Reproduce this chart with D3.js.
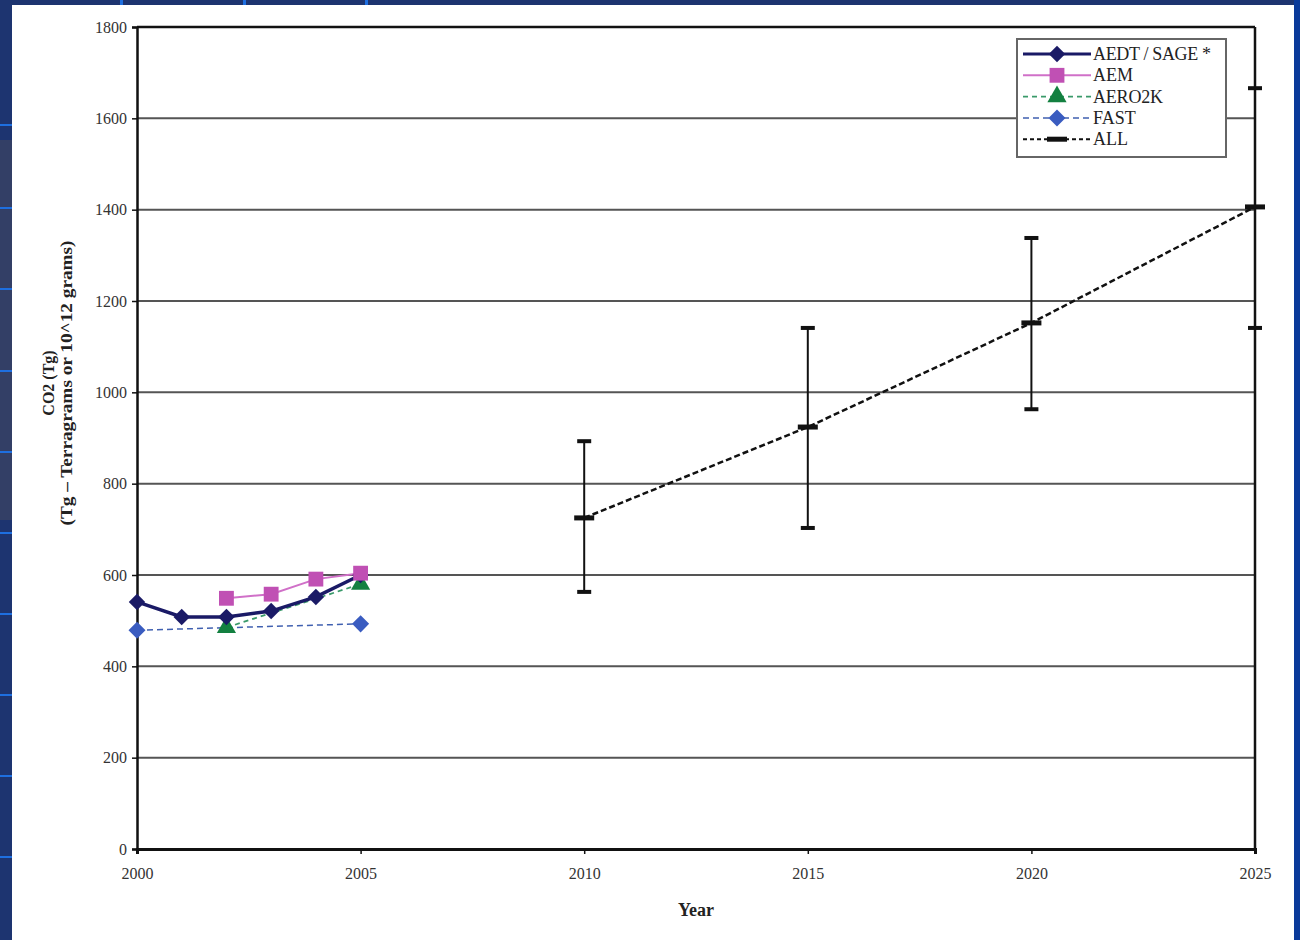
<!DOCTYPE html>
<html>
<head>
<meta charset="utf-8">
<script src="https://cdn.jsdelivr.net/npm/d3@7"></script>
<style>
  body { margin: 0; background: #1d3470; }
  svg { display: block; }
</style>
</head>
<body>
<div id="graph"></div>
<script>
const MARGIN = { LEFT: 137, RIGHT: 45, TOP: 27, BOTTOM: 91 }
const WIDTH = 1300 - MARGIN.LEFT - MARGIN.RIGHT
const HEIGHT = 940 - MARGIN.TOP - MARGIN.BOTTOM

// data
const yearTicks = [2000, 2005, 2010, 2015, 2020, 2025]
const valueTicks = [0, 200, 400, 600, 800, 1000, 1200, 1400, 1600, 1800]

const aedtYears = [2000, 2001, 2002, 2003, 2004, 2005]
const aedtValues = [541, 508, 508, 521, 552, 600]
const aemYears = [2002, 2003, 2004, 2005]
const aemValues = [549, 558, 591, 604]
const aero2kYears = [2002, 2005]
const aero2kValues = [485, 580]
const fastYears = [2000, 2005]
const fastValues = [479, 493]
const allYears = [2010, 2015, 2020, 2025]
const allValues = [725, 924, 1152, 1406]
const allLow = [563, 703, 963, 1141]
const allHigh = [893, 1141, 1338, 1666]

const zip = (xs, ys) => xs.map((x, i) => ({ x: x, y: ys[i] }))

const svg = d3.select("#graph").append("svg")
    .attr("width", 1300)
    .attr("height", 940)

// slide background
svg.append("rect").attr("width", 1300).attr("height", 940).attr("fill", "#1d3470")
svg.append("rect").attr("x", 0).attr("y", 140).attr("width", 12).attr("height", 380)
    .attr("fill", "#4a4a5c").attr("opacity", 0.5)
svg.append("rect").attr("x", 1294).attr("y", 0).attr("width", 6).attr("height", 940).attr("fill", "#0a3a9a")
;[124, 207, 288, 370, 451, 532, 613, 694, 775, 856].forEach(yy => {
    svg.append("rect").attr("x", 0).attr("y", yy).attr("width", 12).attr("height", 2).attr("fill", "#1e6fe0")
})
;[120, 243, 365].forEach(xx => {
    svg.append("rect").attr("x", xx).attr("y", 0).attr("width", 3).attr("height", 5).attr("fill", "#1e6fe0")
})
svg.append("rect").attr("x", 12).attr("y", 5).attr("width", 1282).attr("height", 935).attr("fill", "white")

const g = svg.append("g")
    .attr("transform", `translate(${MARGIN.LEFT}, ${MARGIN.TOP})`)

const x = d3.scaleLinear()
    .range([0, WIDTH])
    .domain([2000, 2025])

const y = d3.scaleLinear()
    .range([HEIGHT, 0])
    .domain([0, 1800])

// gridlines
g.selectAll(".grid")
    .data(valueTicks.filter(v => v > 0))
    .enter().append("line")
    .attr("x1", 0).attr("x2", WIDTH)
    .attr("y1", d => y(d)).attr("y2", d => y(d))
    .attr("stroke", d => d == 1800 ? "#111" : "#555")
    .attr("stroke-width", d => d == 1800 ? 2.5 : 2)

// right frame
g.append("line")
    .attr("x1", WIDTH).attr("x2", WIDTH).attr("y1", 0).attr("y2", HEIGHT)
    .attr("stroke", "#111").attr("stroke-width", 2.5)

// Y Axis
const yAxisCall = d3.axisLeft(y).tickValues(valueTicks).tickFormat(d3.format("d")).tickSize(5).tickPadding(5)
const yAxis = g.append("g").attr("class", "y axis").call(yAxisCall)
yAxis.select(".domain").attr("stroke", "#111").attr("stroke-width", 2.5)
yAxis.selectAll(".tick line").attr("stroke", "#111").attr("stroke-width", 1.5)
yAxis.selectAll("text")
    .attr("font-family", "Liberation Serif").attr("font-size", "16px").attr("fill", "#333")

// X Axis
const xAxisCall = d3.axisBottom(x).tickValues(yearTicks).tickFormat(d3.format("d")).tickSize(5).tickPadding(14)
const xAxis = g.append("g").attr("class", "x axis")
    .attr("transform", `translate(0, ${HEIGHT})`).call(xAxisCall)
xAxis.select(".domain").attr("stroke", "#111").attr("stroke-width", 3)
xAxis.selectAll(".tick line").attr("stroke", "#111").attr("stroke-width", 1.5)
xAxis.selectAll("text")
    .attr("font-family", "Liberation Serif").attr("font-size", "16px").attr("fill", "#333")

// Labels
g.append("text")
    .attr("x", x(2012.5)).attr("y", HEIGHT + 67)
    .attr("font-family", "Liberation Serif").attr("font-weight", "bold")
    .attr("font-size", "18px").attr("text-anchor", "middle").attr("fill", "#222")
    .text("Year")
const yLabel = g.append("text")
    .attr("transform", "rotate(-90)")
    .attr("font-family", "Liberation Serif").attr("font-weight", "bold")
    .attr("font-size", "16px").attr("text-anchor", "middle").attr("fill", "#222")
yLabel.append("tspan").attr("x", -356).attr("y", -83).text("CO2 (Tg)")
yLabel.append("tspan").attr("x", -356).attr("y", -65)
    .attr("textLength", 285).attr("lengthAdjust", "spacingAndGlyphs")
    .text("(Tg – Terragrams or 10^12 grams)")

const line = d3.line().x(d => x(d.x)).y(d => y(d.y))

// ALL forecast with error bars
const allData = allYears.map((yr, i) => ({ x: yr, y: allValues[i], lo: allLow[i], hi: allHigh[i] }))
g.append("path").datum(allData).attr("d", line)
    .attr("fill", "none").attr("stroke", "#111").attr("stroke-width", 2.5).attr("stroke-dasharray", "6,3")
g.selectAll(".errBar").data(allData).enter().append("line")
    .attr("x1", d => x(d.x)).attr("x2", d => x(d.x))
    .attr("y1", d => y(d.lo)).attr("y2", d => y(d.hi))
    .attr("stroke", "#111").attr("stroke-width", 2)
g.selectAll(".errCapLo").data(allData).enter().append("rect")
    .attr("x", d => x(d.x) - 7).attr("y", d => y(d.lo) - 2).attr("width", 14).attr("height", 4).attr("fill", "#111")
g.selectAll(".errCapHi").data(allData).enter().append("rect")
    .attr("x", d => x(d.x) - 7).attr("y", d => y(d.hi) - 2).attr("width", 14).attr("height", 4).attr("fill", "#111")
g.selectAll(".allMark").data(allData).enter().append("rect")
    .attr("x", d => x(d.x) - 10).attr("y", d => y(d.y) - 2.5).attr("width", 20).attr("height", 5).attr("fill", "#111")

// series definitions (diamonds are squares turned 45 degrees)
const series = [
    { name: "AEDT / SAGE *", data: zip(aedtYears, aedtValues), line: "#1a1a66", fill: "#1a1a66", dash: null, width: 3.5, symbol: d3.symbolSquare, size: 135, rot: 45 },
    { name: "AEM", data: zip(aemYears, aemValues), line: "#d070c8", fill: "#c050b4", dash: null, width: 2, symbol: d3.symbolSquare, size: 220, rot: 0 },
    { name: "AERO2K", data: zip(aero2kYears, aero2kValues), line: "#3a9a6a", fill: "#138040", dash: "5,4", width: 1.8, symbol: d3.symbolTriangle, size: 160, rot: 0 },
    { name: "FAST", data: zip(fastYears, fastValues), line: "#4060b0", fill: "#3a5cc0", dash: "6,4", width: 1.5, symbol: d3.symbolSquare, size: 145, rot: 45 }
]

// draw order: FAST, AERO2K, AEDT, AEM
const drawOrder = [3, 2, 0, 1]
drawOrder.forEach(i => {
    const s = series[i]
    g.append("path").datum(s.data).attr("d", line)
        .attr("fill", "none").attr("stroke", s.line).attr("stroke-width", s.width)
        .attr("stroke-dasharray", s.dash)
})
drawOrder.forEach(i => {
    const s = series[i]
    g.selectAll(".pt" + i).data(s.data).enter().append("path")
        .attr("d", d3.symbol().type(s.symbol).size(s.size))
        .attr("transform", d => `translate(${x(d.x)}, ${y(d.y)}) rotate(${s.rot})`)
        .attr("fill", s.fill)
})

// Legend
const legend = svg.append("g").attr("transform", "translate(1017, 39)")
legend.append("rect").attr("width", 209).attr("height", 118)
    .attr("fill", "white").attr("stroke", "#666").attr("stroke-width", 2)
const legendItems = series.concat([{ name: "ALL", line: "#111", dash: "4,3", width: 2, symbol: null }])
legendItems.forEach((s, i) => {
    const ly = 15 + i * 21.3
    legend.append("line").attr("x1", 6).attr("x2", 74).attr("y1", ly).attr("y2", ly)
        .attr("stroke", s.line).attr("stroke-width", Math.min(s.width, 3)).attr("stroke-dasharray", s.dash)
    if (s.symbol) {
        legend.append("path").attr("d", d3.symbol().type(s.symbol).size(s.size))
            .attr("transform", `translate(40, ${ly}) rotate(${s.rot})`).attr("fill", s.fill)
    } else {
        legend.append("rect").attr("x", 30).attr("y", ly - 2.5).attr("width", 20).attr("height", 5).attr("fill", "#111")
    }
    legend.append("text").attr("x", 76).attr("y", ly + 6)
        .attr("font-family", "Liberation Serif").attr("font-size", "18px").attr("fill", "#222")
        .attr("textLength", s.name.length > 5 ? (s.name === "AERO2K" ? 70 : 118) : null)
        .text(s.name)
})
</script>
</body>
</html>
